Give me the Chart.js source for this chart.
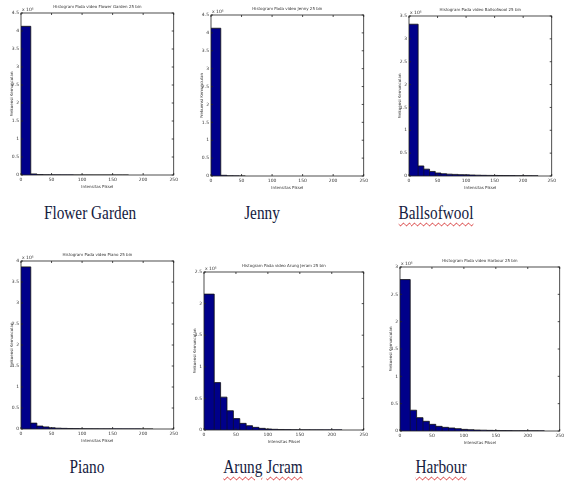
<!DOCTYPE html>
<html>
<head>
<meta charset="utf-8">
<script src="https://cdn.jsdelivr.net/npm/chart.js@4.4.1/dist/chart.umd.min.js"></script>
<style>
  body { margin: 0; background: #fff; }
  #page { position: relative; width: 568px; height: 482px; overflow: hidden; background: #fff; }
  canvas { position: absolute; }
  .cap {
    position: absolute;
    font-family: "Liberation Serif", "DejaVu Serif", serif;
    font-size: 18px;
    color: #142040;
    white-space: nowrap;
    transform: translateX(-50%) scaleX(0.85);
    transform-origin: center;
  }
  .sq { text-decoration: underline wavy #d42a2a; text-decoration-thickness: 1px; text-underline-offset: 3px; }
</style>
</head>
<body>
<div id="page">
  <canvas id="h0"></canvas>
  <canvas id="h1"></canvas>
  <canvas id="h2"></canvas>
  <canvas id="h3"></canvas>
  <canvas id="h4"></canvas>
  <canvas id="h5"></canvas>
  <div class="cap" style="left:90px;top:203px">Flower Garden</div>
  <div class="cap" style="left:262px;top:203px">Jenny</div>
  <div class="cap" style="left:436px;top:203px"><span class="sq">Ballsofwool</span></div>
  <div class="cap" style="left:87px;top:457px">Piano</div>
  <div class="cap" style="left:263px;top:457px"><span class="sq">Arung</span> <span class="sq">Jcram</span></div>
  <div class="cap" style="left:441px;top:457px"><span class="sq">Harbour</span></div>
</div>
<script>
// bin edges of the histograms (pixel intensity)
const binEdges = [0, 16, 26, 36, 46, 56, 66, 76, 86, 96, 106, 116, 126, 136, 146, 156, 166, 176, 186, 196, 206, 216, 226, 236, 246];
const xTicks = [0, 50, 100, 150, 200, 250];

// counts per bin, in units of 10^5
const flowerGarden = [4.13, 0.03, 0.012, 0.008, 0.006, 0.005, 0.004, 0.004, 0.003, 0.003, 0.003, 0.002, 0.002, 0.002, 0.002, 0.002, 0.002];
const jenny = [4.13, 0.02, 0.008, 0.005, 0.003];
const ballsofwool = [3.32, 0.22, 0.15, 0.10, 0.066, 0.05, 0.04, 0.035, 0.03, 0.026, 0.022, 0.018, 0.015, 0.013, 0.012, 0.011, 0.01, 0.009, 0.008, 0.008, 0.007, 0.006];
const piano = [3.86, 0.14, 0.07, 0.05, 0.03, 0.02, 0.015, 0.012, 0.01, 0.008, 0.007, 0.006, 0.005, 0.005, 0.004, 0.004, 0.003, 0.003, 0.003, 0.002, 0.002];
const arungJeram = [2.15, 0.75, 0.52, 0.305, 0.18, 0.105, 0.068, 0.042, 0.026, 0.016, 0.011, 0.008, 0.006, 0.005, 0.004, 0.004, 0.003, 0.003, 0.002, 0.002, 0.002];
const harbour = [2.77, 0.38, 0.244, 0.177, 0.122, 0.085, 0.067, 0.055, 0.043, 0.03, 0.024, 0.018, 0.015, 0.012, 0.01, 0.008, 0.007, 0.006, 0.006, 0.005, 0.005, 0.004];

const videoNames = ['Flower Garden', 'Jenny', 'Ballsofwool', 'Piano', 'Arung Jeram', 'Harbour'];
const seriesList = [flowerGarden, jenny, ballsofwool, piano, arungJeram, harbour];
const yMaxList = [4.5, 4.5, 3.5, 4, 2.5, 3];

// plot-area rectangles on the page [left, top, right, bottom]
const plotBoxes = [
  [21, 13, 176, 175],
  [211, 15, 366, 176],
  [409, 16, 554, 176],
  [21, 261, 176, 429],
  [204, 272, 366, 430],
  [400, 267, 562, 431]
];

const Y_AXIS_W = 14, TITLE_H = 10, X_AXIS_H = 14, RIGHT_PAD = 5;
const tickFont = { family: 'DejaVu Sans', size: 4.5, lineHeight: 1 };
const labelFont = { family: 'DejaVu Sans', size: 4, lineHeight: 1 };

// MATLAB-style box with inward ticks, bar edges and the exponent label
const matlabFrame = {
  id: 'matlabFrame',
  afterDatasetsDraw(chart) {
    const { ctx, scales: { x, y } } = chart;
    const pts = chart.data.datasets[0].data;
    ctx.save();
    ctx.strokeStyle = '#111';
    ctx.lineWidth = 0.6;
    ctx.beginPath();
    for (let k = 1; k < pts.length - 1; k++) {
      const px = x.getPixelForValue(pts[k].x);
      ctx.moveTo(px, y.getPixelForValue(0));
      ctx.lineTo(px, y.getPixelForValue(Math.min(pts[k].y, pts[k - 1].y)));
    }
    ctx.stroke();
    ctx.restore();
  },
  afterDraw(chart) {
    const { ctx, chartArea: a, scales } = chart;
    ctx.save();
    ctx.strokeStyle = '#222';
    ctx.lineWidth = 0.8;
    ctx.strokeRect(a.left, a.top, a.right - a.left, a.bottom - a.top);
    ctx.beginPath();
    scales.x.ticks.forEach(t => {
      const px = scales.x.getPixelForValue(t.value);
      ctx.moveTo(px, a.bottom); ctx.lineTo(px, a.bottom - 2);
      ctx.moveTo(px, a.top); ctx.lineTo(px, a.top + 2);
    });
    scales.y.ticks.forEach(t => {
      const py = scales.y.getPixelForValue(t.value);
      ctx.moveTo(a.left, py); ctx.lineTo(a.left + 2, py);
      ctx.moveTo(a.right, py); ctx.lineTo(a.right - 2, py);
    });
    ctx.stroke();
    ctx.fillStyle = '#333';
    ctx.font = '4.5px "DejaVu Sans"';
    ctx.textAlign = 'left';
    ctx.textBaseline = 'bottom';
    ctx.fillText('x 10⁵', a.left + 1, a.top - 1);
    ctx.restore();
  }
};

seriesList.forEach((counts, i) => {
  const [l, t, r, b] = plotBoxes[i];
  const canvas = document.getElementById('h' + i);
  canvas.width = (r - l) + Y_AXIS_W + RIGHT_PAD;
  canvas.height = (b - t) + TITLE_H + X_AXIS_H;
  canvas.style.left = (l - Y_AXIS_W) + 'px';
  canvas.style.top = (t - TITLE_H) + 'px';

  // stepped outline: one point per left bin edge, closing at the last right edge
  const points = counts.map((c, k) => ({ x: binEdges[k], y: c }));
  points.push({ x: binEdges[counts.length], y: 0 });

  new Chart(canvas.getContext('2d'), {
    type: 'line',
    data: {
      datasets: [{
        label: videoNames[i],
        data: points,
        stepped: 'before',
        fill: 'origin',
        backgroundColor: '#00008a',
        borderColor: '#111',
        borderWidth: 0.8,
        pointRadius: 0
      }]
    },
    options: {
      responsive: false,
      animation: false,
      devicePixelRatio: 1,
      layout: { padding: { left: 0, right: RIGHT_PAD, top: 0, bottom: 0 } },
      plugins: {
        legend: { display: false },
        tooltip: { enabled: false },
        title: {
          display: true,
          fullSize: false,
          text: 'Histogram Pada video ' + videoNames[i] + ' 25 bin',
          color: '#333',
          font: { family: 'DejaVu Sans', size: 4, weight: 'normal', lineHeight: 1 },
          padding: { top: 2, bottom: 4 }
        }
      },
      scales: {
        x: {
          type: 'linear',
          min: 0,
          max: 250,
          afterBuildTicks: s => { s.ticks = xTicks.map(v => ({ value: v })); },
          afterFit: s => { s.height = X_AXIS_H; },
          grid: { display: false, drawTicks: false },
          border: { display: false },
          ticks: { color: '#333', padding: 3, maxRotation: 0, autoSkip: false, font: tickFont },
          title: { display: true, text: 'Intensitas Piksel', color: '#333', padding: { top: 2, bottom: 0 }, font: labelFont }
        },
        y: {
          min: 0,
          max: yMaxList[i],
          afterFit: s => { s.width = Y_AXIS_W; },
          grid: { display: false, drawTicks: false },
          border: { display: false },
          ticks: {
            stepSize: 0.5, color: '#333', padding: 2, autoSkip: false, font: tickFont,
            callback: v => String(Math.round(v * 10) / 10)
          },
          title: { display: true, text: 'Frekuensi Kemunculan', color: '#333', padding: { top: 3, bottom: 0 }, font: labelFont }
        }
      }
    },
    plugins: [matlabFrame]
  });
});
</script>
</body>
</html>
